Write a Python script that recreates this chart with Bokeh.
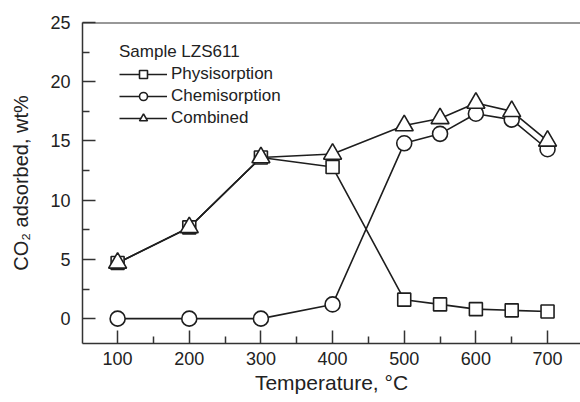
from bokeh.plotting import figure
from bokeh.models import (Range1d, FixedTicker, Legend, LegendItem,
                          ColumnDataSource, Span)
from bokeh.embed import file_html
from bokeh.resources import INLINE

temperature = [100, 200, 300, 400, 500, 550, 600, 650, 700]
physisorption = [4.7, 7.7, 13.6, 12.8, 1.6, 1.2, 0.8, 0.7, 0.6]
chemisorption = [0.0, 0.0, 0.0, 1.2, 14.8, 15.6, 17.3, 16.8, 14.3]
combined = [4.7, 7.7, 13.6, 13.9, 16.3, 16.9, 18.2, 17.5, 15.0]

x_ticks = [100, 200, 300, 400, 500, 600, 700]
x_minor = [150, 250, 350, 450, 550, 650]
y_ticks = [0, 5, 10, 15, 20, 25]
y_minor = [2.5, 7.5, 12.5, 17.5, 22.5]

FONT = "Liberation Sans"
INK = "#1e1e1e"
AX = "#333333"

p = figure(width=580, height=402, output_backend="svg", toolbar_location=None,
           x_range=Range1d(51, 746), y_range=Range1d(-2.1, 25),
           min_border_left=82, min_border_right=0, min_border_top=22,
           min_border_bottom=59)
p.outline_line_color = "white"
p.outline_line_alpha = 0
p.xgrid.visible = False
p.ygrid.visible = False

p.xaxis.ticker = FixedTicker(ticks=x_ticks, minor_ticks=x_minor)
p.yaxis.ticker = FixedTicker(ticks=y_ticks, minor_ticks=y_minor)
p.xaxis.axis_label = "Temperature, °C"
p.yaxis.axis_label = "CO₂ adsorbed, wt%"

p.axis.axis_line_color = AX
p.axis.axis_line_width = 1.5
p.axis.major_tick_line_color = AX
p.axis.minor_tick_line_color = AX
p.axis.major_tick_line_width = 1.5
p.axis.minor_tick_line_width = 1.5
p.axis.major_tick_in = 13
p.axis.major_tick_out = 0
p.axis.minor_tick_in = 7
p.axis.minor_tick_out = 0
p.axis.major_label_text_font = FONT
p.axis.major_label_text_font_size = "18px"
p.axis.major_label_text_color = "#222222"
p.axis.axis_label_text_font = FONT
p.axis.axis_label_text_font_size = "20px"
p.axis.axis_label_text_font_style = "normal"
p.axis.axis_label_text_color = "#222222"
p.xaxis.axis_label_text_font_size = "21px"
p.xaxis.major_label_standoff = 8
p.xaxis.axis_label_standoff = 3
p.yaxis.major_label_standoff = 12
p.yaxis.axis_label_standoff = 15

p.add_layout(Span(location=25, dimension="width", line_color=AX,
                  line_width=2))

src = ColumnDataSource(dict(t=temperature, ph=physisorption,
                            ch=chemisorption, co=combined))

l_ph = p.line("t", "ph", source=src, line_color=INK, line_width=1.6)
l_ch = p.line("t", "ch", source=src, line_color=INK, line_width=1.6)
l_co = p.line("t", "co", source=src, line_color=INK, line_width=1.6)

m_ph = p.scatter("t", "ph", source=src, marker="square", size=13,
                 line_color=INK, line_width=1.6, fill_color="white")
m_ch = p.scatter("t", "ch", source=src, marker="circle", size=15,
                 line_color=INK, line_width=1.6, fill_color="white")
m_co = p.scatter("t", "co", source=src, marker="triangle", size=18,
                 line_color=INK, line_width=1.6, fill_color="white")

legend = Legend(items=[
    LegendItem(label="Physisorption", renderers=[l_ph, m_ph]),
    LegendItem(label="Chemisorption", renderers=[l_ch, m_ch]),
    LegendItem(label="Combined", renderers=[l_co, m_co]),
], location=(37, 215))
legend.title = "Sample LZS611"
legend.title_text_font = FONT
legend.title_text_font_size = "17px"
legend.title_text_font_style = "normal"
legend.title_text_color = "#222222"
legend.title_standoff = 2
legend.label_text_font = FONT
legend.label_text_font_size = "17px"
legend.label_text_color = "#222222"
legend.glyph_width = 48
legend.glyph_height = 20
legend.label_height = 20
legend.spacing = 2
legend.label_standoff = 4
legend.padding = 0
legend.margin = 0
legend.border_line_color = None
legend.background_fill_alpha = 0
p.add_layout(legend)

open("out.html", "w").write(file_html(p, INLINE))
